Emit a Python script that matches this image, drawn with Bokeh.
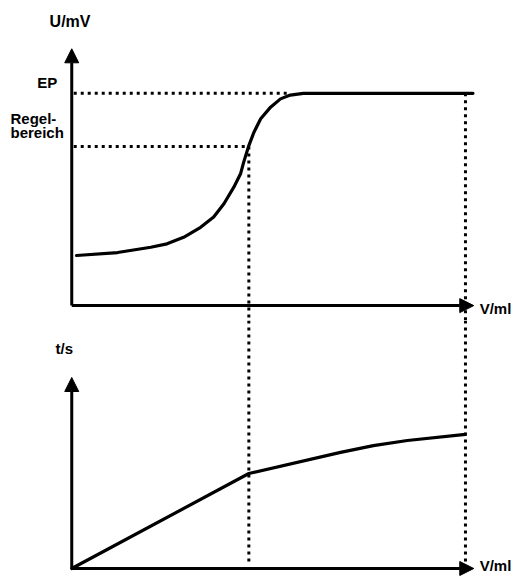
from bokeh.plotting import figure
from bokeh.layouts import column
from bokeh.models import Arrow, NormalHead
from bokeh.core.properties import value
from bokeh.embed import file_html
from bokeh.resources import INLINE

# ---- data ----
# top panel: titration curve U/mV vs V/ml
v_titr = [0.12, 1.16, 2.0, 2.41, 2.83, 3.26, 3.59, 3.85, 4.10, 4.27, 4.35, 4.48,
          4.61, 4.78, 5.03, 5.28, 5.53, 5.86, 10.15]
u_mv = [23.6, 25.0, 27.5, 29.1, 32.2, 36.9, 41.7, 48.0, 55.8, 62.1, 67.6, 75.4,
        81.7, 88.0, 93.5, 97.4, 99.2, 100.0, 100.0]
u_ep = 100.0          # EP level
u_regel = 75.0        # Regelbereich level
v_regel = 4.48        # volume at start of Regelbereich
v_ep = 9.96           # volume at end point
v_ep_curve = 5.5      # where EP dotted line meets curve

# bottom panel: time t/s vs V/ml
v_time = [0.0, 4.48, 6.8, 7.63, 8.49, 9.96]
t_s = [0.0, 37.4, 45.7, 48.4, 50.4, 52.8]

# axis extents (data units)
u_axis_top = 121.0
t_axis_top = 75.2
v_axis_end = 10.17

FONT = value("Liberation Sans")
W = 516
XR = (-1.8024, 11.251)

def base(h, yr):
    p = figure(width=W, height=h, x_range=XR, y_range=yr,
               toolbar_location=None, output_backend="svg", min_border=0,
               x_axis_location=None, y_axis_location=None)
    p.grid.visible = False
    p.outline_line_color = None
    p.background_fill_color = "white"
    p.border_fill_color = "white"
    return p

def lbl(p, x, y, txt, size="15px", align="left"):
    p.text(x=[x], y=[y], text=[txt], text_font=FONT, text_font_style="bold",
           text_font_size=size, text_align=align, text_baseline="middle",
           text_color="black")

def axis_arrow(p, x0, y0, x1, y1):
    p.add_layout(Arrow(x_start=x0, y_start=y0, x_end=x1, y_end=y1,
                       line_width=3, line_color="black",
                       end=NormalHead(size=14, fill_color="black", line_color="black",
                                      line_width=1)))

DOT = dict(line_color="black", line_width=3, line_dash="3 4", line_cap="butt")

# ---------------- top panel ----------------
Y1 = (-7.02, 143.75)
p1 = base(320, Y1)
p1.line([0.05, v_ep_curve], [u_ep, u_ep], **DOT)
p1.line([0.05, v_regel], [u_regel, u_regel], **DOT)
p1.line([v_regel, v_regel], [u_regel, Y1[0]], **DOT)
p1.line([v_ep, v_ep], [u_ep, Y1[0]], **DOT)
p1.line(v_titr, u_mv, line_color="black", line_width=3.2, line_join="round", line_cap="round")
axis_arrow(p1, 0, 0, 0, u_axis_top)
axis_arrow(p1, 0, 0, v_axis_end, 0)
lbl(p1, -0.56, 133.9, "U/mV", "16px")
lbl(p1, -0.87, 105.1, "EP")
lbl(p1, -1.55, 88.2, "Regel-")
lbl(p1, -1.55, 81.6, "bereich")
lbl(p1, 10.32, -1.3, "V/ml")

# ---------------- bottom panel ----------------
Y2 = (-3.54, 97.64)
p2 = base(257, Y2)
p2.line([v_regel, v_regel], [Y2[1], 1.5], **DOT)
p2.line([v_ep, v_ep], [Y2[1], 1.5], **DOT)
p2.line(v_time, t_s, line_color="black", line_width=3.2, line_join="round", line_cap="round")
axis_arrow(p2, 0, 0, 0, t_axis_top)
axis_arrow(p2, 0, 0, v_axis_end, 0)
lbl(p2, -0.41, 86.6, "t/s")
lbl(p2, 10.32, 1.0, "V/ml")

layout = column(p1, p2, spacing=0)
open("out.html", "w").write(file_html(layout, INLINE))
